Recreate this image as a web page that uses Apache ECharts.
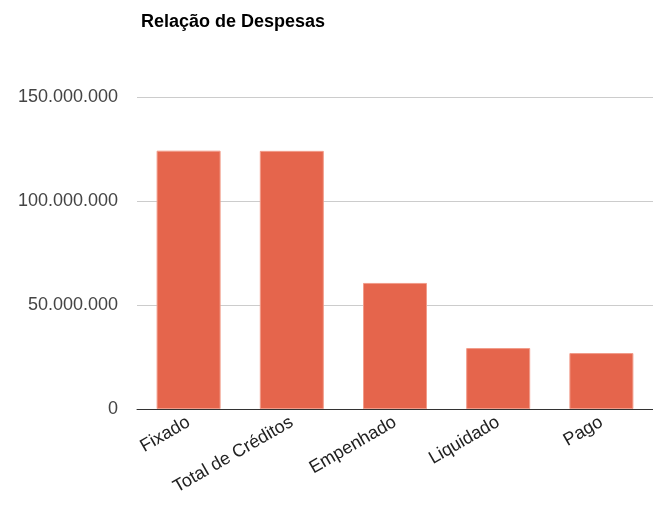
<!DOCTYPE html>
<html>
<head>
<meta charset="utf-8">
<script src="https://cdn.jsdelivr.net/npm/echarts@6/dist/echarts.min.js"></script>
<style>
  html, body { margin: 0; padding: 0; background: #fff; }
  #chart { width: 653px; height: 511px; }
</style>
</head>
<body>
<div id="chart"></div>
<script>
var categories = ['Fixado', 'Total de Créditos', 'Empenhado', 'Liquidado', 'Pago'];
var despesas = [124200000, 124100000, 60600000, 29300000, 26900000];

var chart = echarts.init(document.getElementById('chart'));

var option = {
    animation: false,
    title: {
        text: 'Relação de Despesas',
        left: 136,
        top: 8,
        textStyle: {
            fontFamily: 'Liberation Sans',
            fontSize: 18,
            fontWeight: 'bold',
            color: '#000'
        }
    },
    grid: {
        left: 137,
        top: 97,
        width: 520,
        bottom: 102,
        containLabel: false
    },
    xAxis: {
        type: 'category',
        data: categories,
        axisTick: { show: false },
        axisLine: { lineStyle: { color: '#333', width: 1 } },
        axisLabel: {
            rotate: 30,
            margin: 12,
            interval: 0,
            fontFamily: 'Liberation Sans',
            fontSize: 18,
            color: '#222'
        }
    },
    yAxis: {
        type: 'value',
        min: 0,
        max: 150000000,
        interval: 50000000,
        axisLine: { show: false },
        axisTick: { show: false },
        splitLine: { lineStyle: { color: '#ccc' } },
        axisLabel: {
            margin: 19,
            fontFamily: 'Liberation Sans',
            fontSize: 18,
            color: '#444',
            formatter: function (v) {
                return String(v).replace(/\B(?=(\d{3})+(?!\d))/g, '.');
            }
        }
    },
    series: [
        {
            name: 'Despesas',
            type: 'bar',
            data: despesas,
            barWidth: 64,
            itemStyle: {
                color: '#e5654c',
                borderColor: '#f29c8a',
                borderWidth: 1
            }
        }
    ]
};

chart.setOption(option);
</script>
</body>
</html>
